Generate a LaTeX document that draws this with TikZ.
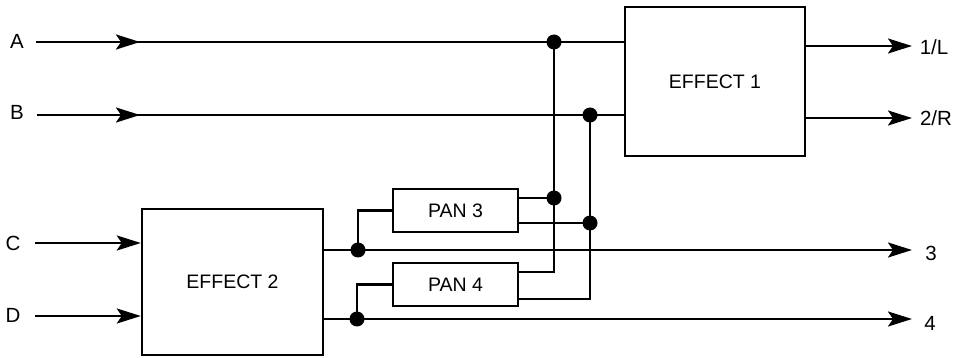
\documentclass[tikz,border=0pt]{standalone}
\usepackage{fontspec}
\setmainfont{Liberation Sans}
\usetikzlibrary{arrows.meta,calc}
\tikzset{
  box/.style={draw, line width=2.4pt, inner sep=0pt, align=center, font=\fontsize{19.5}{22}\selectfont},
  wire/.style={line width=2.4pt},
  arr/.style={wire, -{Stealth[length=24pt,width=15pt,inset=5pt]}},
  lbl/.style={inner sep=0pt, font=\fontsize{20.5}{23}\selectfont},
  dotn/.style={circle, fill, inner sep=0pt, minimum size=15pt},
}
\begin{document}
\begin{tikzpicture}[x=1pt,y=-1pt]
\useasboundingbox (0,0) rectangle (964,358);
% boxes
\node[box, minimum width=180pt, minimum height=149pt] (E1) at (715,81.5) {\raisebox{-3pt}{EFFECT 1}};
\node[box, minimum width=181pt, minimum height=146pt] (E2) at (232.5,282) {EFFECT 2};
\node[box, minimum width=125pt, minimum height=43pt] (P3) at (455.5,210.5) {PAN 3};
\node[box, minimum width=125pt, minimum height=43pt] (P4) at (455.5,284.5) {PAN 4};
% labels
\node[lbl] (lA) at (17,41) {A};
\node[lbl] (lB) at (17,112) {B};
\node[lbl] (lC) at (13,243) {C};
\node[lbl] (lD) at (13,315) {D};
\node[lbl] (l1) at (934,47) {1/L};
\node[lbl] (l2) at (936,118) {2/R};
\node[lbl] (l3) at (931,253) {3};
\node[lbl] (l4) at (930,323) {4};
% coordinates
\coordinate (a0) at (36,42);  \coordinate (a1) at (140,42);
\coordinate (b0) at (37,115); \coordinate (b1) at (140,115);
\coordinate (c0) at (35,243); \coordinate (d0) at (35,316);
\coordinate (jA) at (554,42);  \coordinate (jB) at (590,115);
\coordinate (jA3) at (554,198); \coordinate (jB3) at (590,223);
\coordinate (jA4) at (554,272); \coordinate (jB4) at (590,299);
\coordinate (j3) at (358,250); \coordinate (j4) at (357,319);
\coordinate (o1) at (912,46); \coordinate (o2) at (912,118);
\coordinate (o3) at (912,250); \coordinate (o4) at (912,319);
% inputs A, B
\draw[wire] (a0) -- (jA -| E1.west);
\draw[arr] (a0) -- (a1);
\draw[wire] (b0) -- (jB -| E1.west);
\draw[arr] (b0) -- (b1);
% inputs C, D
\draw[arr] (c0) -- (c0 -| E2.west);
\draw[arr] (d0) -- (d0 -| E2.west);
% outputs of effect 1
\draw[arr] (o1 -| E1.east) -- (o1);
\draw[arr] (o2 -| E1.east) -- (o2);
% outputs of effect 2
\draw[arr] (j3 -| E2.east) -- (o3);
\draw[arr] (j4 -| E2.east) -- (o4);
% pan inputs
\draw[wire] (j3) |- (P3.west);
\draw[wire] (j4) |- (P4.west);
% pan outputs
\draw[wire] (jA3 -| P3.east) -- (jA3);
\draw[wire] (jB3 -| P3.east) -- (jB3);
\draw[wire] (jA) -- (jA4) -- (jA4 -| P4.east);
\draw[wire] (jB) -- (jB4) -- (jB4 -| P4.east);
% junction dots
\foreach \p in {jA,jB,jA3,jB3,j3,j4} \node[dotn] at (\p) {};
\end{tikzpicture}
\end{document}
